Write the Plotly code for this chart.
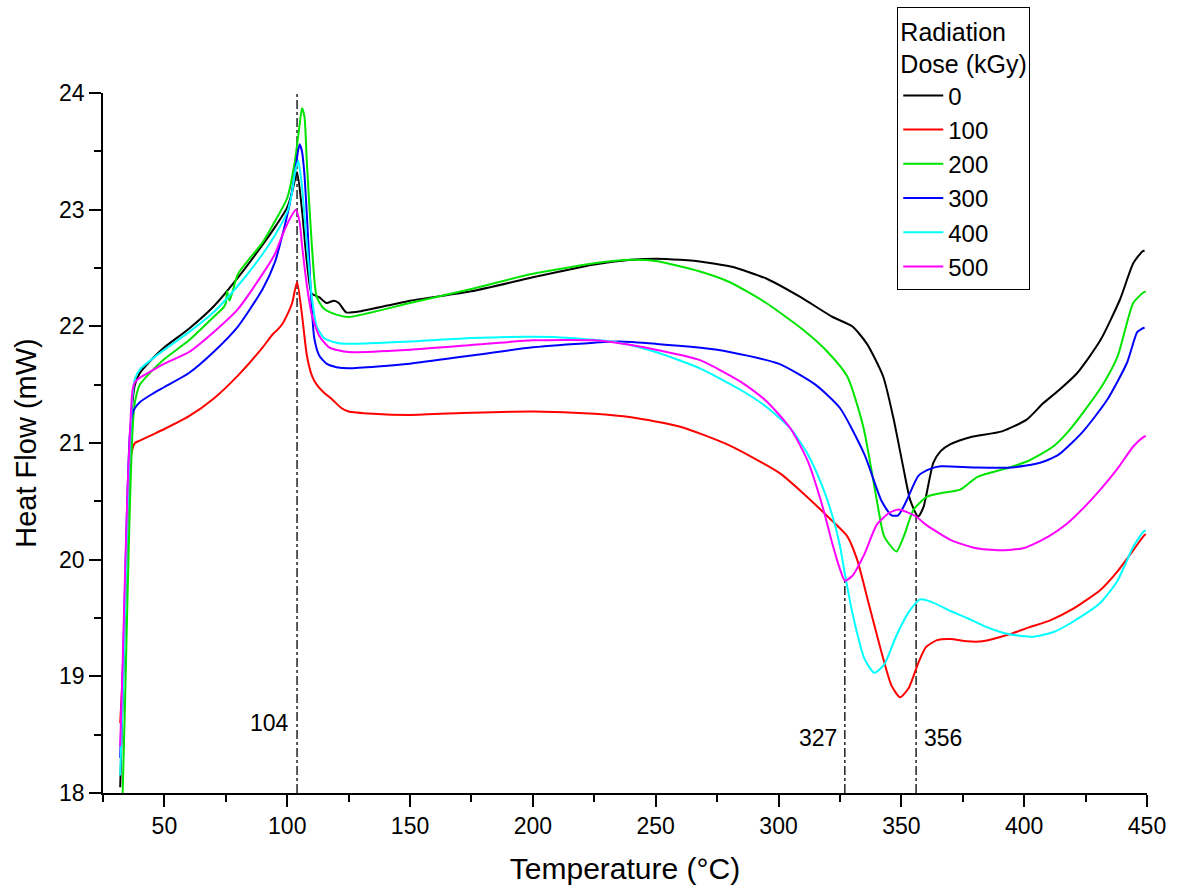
import plotly.graph_objects as go

# ---------------- data ----------------
doses = ["0", "100", "200", "300", "400", "500"]
colors = ["#000000", "#FF0000", "#00E400", "#0000FF", "#00FFFF", "#FF00FF"]

t_0 = [32, 33, 34, 35, 36, 37, 38, 40, 45, 50, 60, 70, 80, 90, 95, 100, 102, 104, 106, 108, 110, 113, 116,
       119, 121, 124, 130, 150, 175, 200, 225, 240, 250, 260, 270, 281, 295, 309, 322, 330, 336, 342.6, 346.7,
       350.7, 353.6, 356.8, 359, 363, 366, 370, 378, 391, 401, 407.7, 414, 421.6, 431, 439, 444.4, 448, 449]
hf_0 = [18.05, 18.8, 19.6, 20.4, 21.0, 21.35, 21.5, 21.6, 21.72, 21.82, 21.98, 22.17, 22.42, 22.7, 22.85, 23.02,
        23.15, 23.32, 23.0, 22.55, 22.28, 22.25, 22.2, 22.22, 22.2, 22.12, 22.13, 22.22, 22.3, 22.42, 22.53,
        22.57, 22.58, 22.57, 22.55, 22.51, 22.41, 22.25, 22.08, 22.0, 21.85, 21.57, 21.22, 20.8, 20.51, 20.37,
        20.45, 20.83, 20.93, 20.99, 21.05, 21.1, 21.2, 21.34, 21.45, 21.6, 21.88, 22.23, 22.54, 22.64, 22.65]

t_100 = [32, 33, 34, 35, 36, 37, 38, 40, 45, 50, 60, 70, 80, 90, 94, 96, 98, 100, 102, 104, 106, 108, 110, 112,
         115, 118, 122, 125, 135, 150, 175, 200, 225, 240, 260, 280, 300.6, 310, 320, 328, 332, 337, 342, 346,
         349.5, 353, 357, 360, 364.5, 370, 376.8, 383, 394, 402, 410.6, 420, 431, 438, 444.4, 448.5, 449.5]
hf_100 = [18.6, 19.0, 19.6, 20.3, 20.8, 20.95, 21.0, 21.02, 21.07, 21.12, 21.23, 21.38, 21.58, 21.82, 21.93,
          21.97, 22.02, 22.1, 22.2, 22.38, 22.1, 21.75, 21.58, 21.5, 21.43, 21.38, 21.3, 21.27, 21.25, 21.24,
          21.26, 21.27, 21.25, 21.22, 21.14, 20.98, 20.74, 20.57, 20.37, 20.2, 20.0, 19.6, 19.2, 18.92, 18.82,
          18.9, 19.12, 19.25, 19.31, 19.32, 19.3, 19.3, 19.36, 19.42, 19.48, 19.58, 19.74, 19.9, 20.08, 20.2, 20.22]

t_200 = [33, 34, 35, 36, 37, 38, 40, 45, 50, 60, 70, 74, 75, 75.5, 76.5, 80, 90, 95, 100, 103, 105, 106, 107,
         108, 110, 112, 115, 120, 125, 150, 175, 200, 225, 240, 250, 268, 280, 295, 310, 320, 328, 334.5, 340,
         343, 348, 351, 355, 360.5, 366, 374, 381, 394, 402, 411.8, 418, 425.7, 432, 438, 444.4, 448.5, 449.5]
hf_200 = [18.0, 18.8, 19.7, 20.5, 21.1, 21.35, 21.5, 21.62, 21.72, 21.88, 22.08, 22.16, 22.2, 22.3, 22.22,
          22.45, 22.72, 22.9, 23.1, 23.4, 23.72, 23.87, 23.8, 23.4, 22.7, 22.25, 22.15, 22.1, 22.08, 22.2, 22.32,
          22.45, 22.54, 22.57, 22.56, 22.47, 22.38, 22.2, 21.97, 21.78, 21.57, 21.14, 20.51, 20.2, 20.07, 20.2,
          20.43, 20.54, 20.57, 20.6, 20.71, 20.79, 20.85, 20.97, 21.1, 21.31, 21.5, 21.74, 22.2, 22.29, 22.3]

t_300 = [32, 33, 34, 35, 36, 37, 38, 40, 45, 50, 60, 70, 80, 90, 95, 98, 101, 103, 105, 106, 107, 108, 109, 110,
         111, 113, 116, 120, 125, 150, 175, 200, 225, 235, 250, 275, 300, 315, 325, 335, 342, 346, 348.7, 352,
         357, 362, 366, 380, 395, 406.5, 414, 424, 433.8, 441.9, 446, 448, 449]
hf_300 = [18.3, 19.0, 19.8, 20.6, 21.1, 21.25, 21.3, 21.35, 21.42, 21.48, 21.6, 21.78, 22.0, 22.32, 22.55, 22.78,
          23.05, 23.3, 23.56, 23.5, 23.3, 22.95, 22.55, 22.15, 21.9, 21.75, 21.68, 21.65, 21.64, 21.68, 21.75,
          21.82, 21.86, 21.87, 21.85, 21.8, 21.68, 21.5, 21.3, 20.9, 20.5, 20.38, 20.38, 20.5, 20.72, 20.78,
          20.8, 20.79, 20.79, 20.83, 20.9, 21.1, 21.37, 21.69, 21.95, 21.98, 21.99]

t_400 = [32, 33, 34, 35, 36, 37, 38, 40, 45, 50, 60, 70, 80, 90, 95, 100, 102, 103, 104.5, 106, 107, 108, 110,
         112, 115, 120, 125, 150, 175, 200, 215, 235, 250, 268, 285, 295, 305, 312, 318, 322, 325, 327, 330, 335,
         339, 343, 348, 353, 357.6, 362, 370, 376.8, 385, 394, 403.7, 412, 420, 431, 438, 444.4, 448.5, 449.5]
hf_400 = [18.15, 18.8, 19.6, 20.4, 21.0, 21.4, 21.55, 21.63, 21.72, 21.8, 21.95, 22.12, 22.35, 22.62, 22.78,
          22.98, 23.15, 23.3, 23.42, 23.2, 22.95, 22.7, 22.25, 22.0, 21.9, 21.86, 21.85, 21.87, 21.9, 21.91, 21.9,
          21.86, 21.78, 21.64, 21.45, 21.31, 21.12, 20.9, 20.62, 20.37, 20.12, 19.88, 19.55, 19.15, 19.03, 19.1,
          19.35, 19.55, 19.66, 19.64, 19.56, 19.5, 19.42, 19.36, 19.34, 19.38, 19.47, 19.63, 19.82, 20.11, 20.24,
          20.25]

t_500 = [32, 33, 34, 35, 36, 37, 38, 40, 45, 50, 60, 70, 80, 90, 95, 98, 101, 103.5, 105, 106, 108, 110, 113,
         117, 125, 150, 175, 200, 225, 240, 250, 268, 285, 295, 305, 312, 318, 322, 325, 327, 330, 335, 340, 345,
         348.7, 352, 356, 360, 370, 380, 390, 400, 410, 417.5, 424, 431, 438, 444.4, 448.5, 449.5]
hf_500 = [18.4, 19.1, 19.9, 20.6, 21.1, 21.45, 21.52, 21.56, 21.62, 21.68, 21.78, 21.95, 22.15, 22.45, 22.62,
          22.78, 22.92, 23.0, 22.9, 22.7, 22.35, 22.1, 21.92, 21.82, 21.78, 21.8, 21.84, 21.88, 21.88, 21.84, 21.8,
          21.71, 21.52, 21.36, 21.12, 20.84, 20.45, 20.13, 19.92, 19.82, 19.86, 20.05, 20.3, 20.4, 20.43, 20.41,
          20.37, 20.3, 20.17, 20.1, 20.08, 20.1, 20.2, 20.31, 20.44, 20.6, 20.78, 20.97, 21.05, 21.06]

temps = [t_0, t_100, t_200, t_300, t_400, t_500]
flows = [hf_0, hf_100, hf_200, hf_300, hf_400, hf_500]

# marked transition temperatures and the heat-flow level where each guide line stops
mark_temps = [104, 327, 356]
mark_tops = [24, 19.82, 20.37]
mark_labels = ["104", "327", "356"]
mark_label_y = [18.6, 18.47, 18.47]

x_ticks = [50, 100, 150, 200, 250, 300, 350, 400, 450]
y_ticks = [18, 19, 20, 21, 22, 23, 24]

FONT = "Liberation Sans, Arial, sans-serif"

fig = go.Figure()

# guide lines (dash-dot)
for t, top in zip(mark_temps, mark_tops):
    fig.add_trace(go.Scatter(x=[t, t], y=[18, top], mode="lines",
                             line=dict(color="black", width=1.3, dash="dashdot"),
                             showlegend=False, hoverinfo="skip"))

for name, c, tx, hy in zip(doses, colors, temps, flows):
    fig.add_trace(go.Scatter(x=tx, y=hy, mode="lines", name=name,
                             line=dict(color=c, width=2, shape="spline", smoothing=0.6)))

# labels of guide lines
anchors = ["right", "right", "left"]
offsets = [-6, -6, 6]
for t, lab, ly, a, off in zip(mark_temps, mark_labels, mark_label_y, anchors, offsets):
    fig.add_annotation(x=t, y=ly, text=lab, showarrow=False, xanchor=a, xshift=off,
                       font=dict(family=FONT, size=23, color="black"))

axis_common = dict(showline=True, linecolor="black", linewidth=1.5, ticks="outside", ticklen=12,
                   tickwidth=1.5, tickcolor="black", showgrid=False, zeroline=False, mirror=False,
                   tickfont=dict(family=FONT, size=23, color="black"))

fig.update_xaxes(range=[25, 450], tickvals=x_ticks,
                 minor=dict(ticks="outside", dtick=25, tick0=0, ticklen=7, tickwidth=1.5, tickcolor="black"),
                 title=dict(text="Temperature (°C)", font=dict(family=FONT, size=30, color="black"), standoff=20),
                 **axis_common)
fig.update_yaxes(range=[18, 24], tickvals=y_ticks,
                 minor=dict(ticks="outside", dtick=0.5, tick0=18, ticklen=7, tickwidth=1.5, tickcolor="black"),
                 title=dict(text="Heat Flow (mW)", font=dict(family=FONT, size=29, color="black"), standoff=14),
                 **axis_common)

fig.update_layout(
    width=1178, height=888,
    margin=dict(l=103, r=31, t=93, b=95, autoexpand=False),
    paper_bgcolor="white", plot_bgcolor="white",
    font=dict(family=FONT, color="black"),
    legend=dict(x=0.7615, y=0.992, xref="container", yref="container", xanchor="left", yanchor="top",
                bgcolor="white", bordercolor="black", borderwidth=1.2,
                font=dict(family=FONT, size=24, color="black"),
                title=dict(text="Radiation<br>Dose (kGy)", side="top center",
                           font=dict(family=FONT, size=25, color="black")),
                tracegroupgap=0, itemwidth=40),
)

fig.write_html("out.html")
